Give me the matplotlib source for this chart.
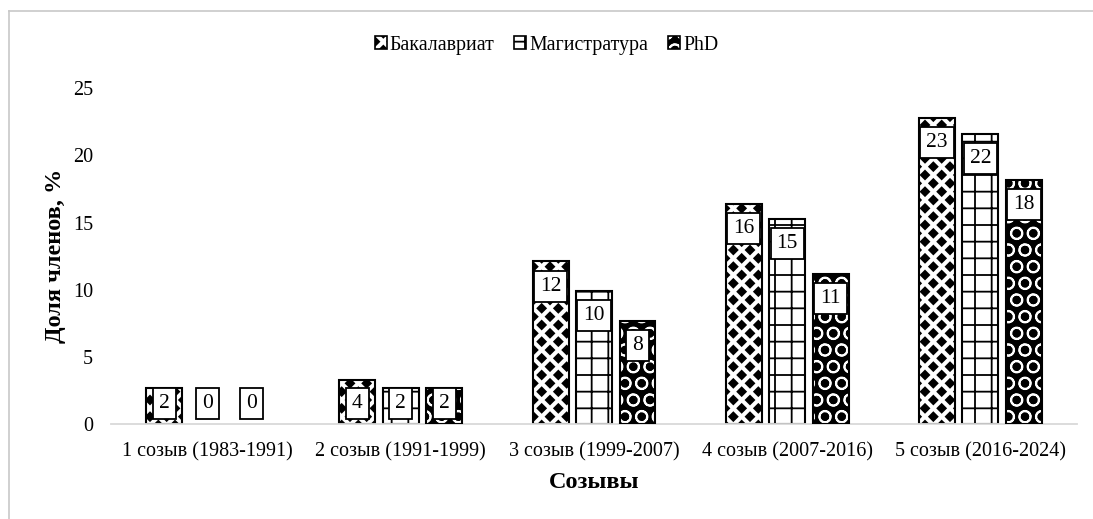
import numpy as np
import matplotlib
matplotlib.use('Agg')
import matplotlib.pyplot as plt
import matplotlib.hatch as mhatch
from matplotlib.path import Path
from matplotlib.patches import Patch
from matplotlib.lines import Line2D

# data
convocations = ['1 созыв (1983-1991)', '2 созыв (1991-1999)', '3 созыв (1999-2007)',
                '4 созыв (2007-2016)', '5 созыв (2016-2024)']
series = ['Бакалавриат', 'Магистратура', 'PhD']
bachelor = [2.7, 3.3, 12.1, 16.4, 22.8]
master = [0.0, 2.7, 9.9, 15.3, 21.6]
phd = [0.0, 2.7, 7.7, 11.2, 18.2]
# numbers printed in the label boxes
bachelor_lbl = [2, 4, 12, 16, 23]
master_lbl = [0, 2, 10, 15, 22]
phd_lbl = [0, 2, 8, 11, 18]


# staggered black diamonds for the "*" hatch (instead of stars)
class DiamondHatch(mhatch.HatchPatternBase):
    def __init__(self, hatch, density):
        self.n = hatch.count('*') * density
        if self.n:
            self.rows = 2 * self.n + 1
            self.cols = self.n + 1
            self.num_vertices = self.rows * self.cols * 5
        else:
            self.num_vertices = 0

    def set_vertices_and_codes(self, vertices, codes):
        step = 1.0 / self.n
        r = 0.25 * step
        shape = np.array([[0, r], [r, 0], [0, -r], [-r, 0], [0, r]])
        scodes = [Path.MOVETO, Path.LINETO, Path.LINETO, Path.LINETO, Path.CLOSEPOLY]
        k = 0
        for row in range(self.rows):
            y = row * step / 2
            shift = 0 if row % 2 == 0 else step / 2
            for col in range(self.cols):
                x = col * step + shift
                vertices[k:k + 5] = shape + [x, y]
                codes[k:k + 5] = scodes
                k += 5


mhatch._hatch_types = [DiamondHatch if t is mhatch.Stars else t for t in mhatch._hatch_types]

plt.rcParams['font.family'] = ['Liberation Serif', 'DejaVu Serif']
plt.rcParams['hatch.linewidth'] = 1.3

fig = plt.figure(figsize=(10.93, 5.19), dpi=100)
ax = fig.add_axes([0.1016, 0.183, 0.8838, 0.647])

x = np.arange(len(convocations))
w = 0.186
step = 0.225
edge = 'black'


def widths(vals):
    return [1.5 if v > 0 else 0 for v in vals]


ax.bar(x - step, bachelor, w, facecolor='white', edgecolor=edge, hatch='*',
       linewidth=widths(bachelor), zorder=2)
ax.bar(x, master, w, facecolor='white', edgecolor=edge, hatch='+',
       linewidth=widths(master), zorder=2)
ax.bar(x + step, phd, w, facecolor='black', edgecolor='white', hatch='O', linewidth=0, zorder=2)
ax.bar(x + step, phd, w, fill=False, edgecolor=edge, linewidth=widths(phd), zorder=3)

for xs, vals, lbls in [(x - step, bachelor, bachelor_lbl), (x, master, master_lbl), (x + step, phd, phd_lbl)]:
    for xi, v, lb in zip(xs, vals, lbls):
        ypos = max(v - 1.85, 1.55)
        ax.text(xi, ypos, str(lb), ha='center', va='center', fontsize=15.5, zorder=5,
                bbox=dict(boxstyle='square,pad=0.28', fc='white', ec='black', lw=1.3))

ax.set_xlim(-0.5, 4.5)
ax.set_ylim(0, 25)
ax.set_yticks([0, 5, 10, 15, 20, 25])
ax.set_xticks(x)
ax.set_xticklabels(convocations)
ax.tick_params(axis='both', length=0, labelsize=14.5)
ax.tick_params(axis='y', pad=13)
ax.tick_params(axis='x', pad=13)
for s in ['top', 'right', 'left']:
    ax.spines[s].set_visible(False)
ax.spines['bottom'].set_color('#d9d9d9')
ax.spines['bottom'].set_linewidth(1.3)

ax.set_ylabel('Доля членов, %', fontsize=17.5, fontweight='bold', labelpad=5)
ax.set_xlabel('Созывы', fontsize=17.5, fontweight='bold', labelpad=8)

h1 = Patch(facecolor='white', edgecolor='black', hatch='*', linewidth=1.2)
h2 = Patch(facecolor='white', edgecolor='black', hatch='+', linewidth=1.2)
h3 = (Patch(facecolor='black', edgecolor='white', hatch='O', linewidth=0),
      Patch(fill=False, edgecolor='black', linewidth=1.2))
fig.legend([h1, h2, h3], series, loc='center', bbox_to_anchor=(0.5, 0.913), ncol=3,
           frameon=False, fontsize=14.3, handlelength=0.6, handleheight=0.6,
           handletextpad=0.15, columnspacing=1.0)

# light outer frame like the source screenshot
fig.add_artist(Line2D([9 / 1093, 9 / 1093], [0, 1 - 11 / 519], transform=fig.transFigure,
                      color='#c8c8c8', linewidth=1.2))
fig.add_artist(Line2D([9 / 1093, 1], [1 - 11 / 519, 1 - 11 / 519], transform=fig.transFigure,
                      color='#c8c8c8', linewidth=1.2))

fig.savefig('out.png', dpi=100)
